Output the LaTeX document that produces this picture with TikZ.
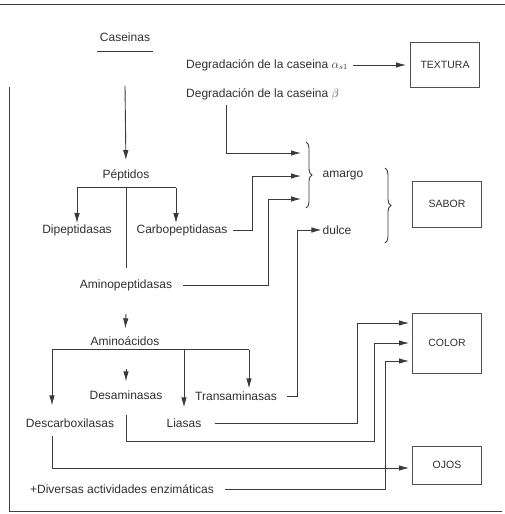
\documentclass[tikz,border=0pt]{standalone}
\usepackage{fontspec}
\setmainfont{Liberation Sans}
\usepackage{tikz}
\usetikzlibrary{arrows.meta,calc,decorations.pathreplacing}
\definecolor{ink}{HTML}{2F2F2F}
\definecolor{rule}{HTML}{3A3A3A}
\definecolor{boxline}{HTML}{505050}
\tikzset{
  >={Latex[length=10pt,width=5.5pt]},
  flow/.style={->,draw=rule,line width=.9pt},
  link/.style={draw=rule,line width=.9pt},
  lbl/.style={text=ink,font=\fontsize{12}{14}\selectfont,inner sep=1pt},
  target/.style={draw=boxline,line width=.9pt,text=ink,font=\fontsize{10.5}{12}\selectfont,
                 minimum width=69pt},
  curly/.style={draw=rule,line width=.9pt,decorate,decoration={brace,amplitude=6pt}},
  frame/.style={draw=black!75,line width=1pt}
}

\begin{document}
\begin{tikzpicture}[x=1pt,y=-1pt]
  \useasboundingbox (0,0) rectangle (505,514);
  % Frame
  \draw[frame] (0,4) -- (505,4);
  \draw[frame] (9,87) -- (9,511) -- (502,511);

  % Substrates and enzymes
  \node[lbl] (cas) at (125,37) {Caseinas};
  \node[lbl,anchor=west] (dega) at (185,65) {Degradación de la caseina $\alpha_{s1}$};
  \node[lbl,anchor=west] (degb) at (185,94) {Degradación de la caseina $\beta$};
  \node[lbl] (pep) at (126,175) {Péptidos};
  \node[lbl] (dip) at (77,230) {Dipeptidasas};
  \node[lbl] (car) at (182,230) {Carbopeptidasas};
  \node[lbl] (amp) at (126,285) {Aminopeptidasas};
  \node[lbl] (ami) at (125,341) {Aminoácidos};
  \node[lbl] (des) at (126,395) {Desaminasas};
  \node[lbl] (tra) at (236,396) {Transaminasas};
  \node[lbl] (dsc) at (70,423) {Descarboxilasas};
  \node[lbl] (lia) at (184,423) {Liasas};
  \node[lbl] (div) at (122,489) {+Diversas actividades enzimáticas};
  \node[lbl] (ama) at (343,176) {amargo};
  \node[lbl] (dul) at (337,230) {dulce};

  % Sensory outcomes
  \node[target,minimum height=45pt] (tex) at (445,65) {TEXTURA};
  \node[target,minimum height=46pt] (sab) at (447,204) {SABOR};
  \node[target,minimum height=60pt] (col) at (447,343) {COLOR};
  \node[target,minimum height=38pt] (ojo) at (447,465) {OJOS};

  % Braces
  \draw[curly] (306,142) -- (306,208);
  \draw[curly] (385,168) -- (385,243);
  \coordinate (in1) at (301,153);
  \coordinate (in2) at (301,176);
  \coordinate (in3) at (301,199);
  \coordinate (cin1) at ($(col.west)+(0,-20)$);
  \coordinate (cin2) at (col.west);
  \coordinate (cin3) at ($(col.west)+(0,18)$);

  \draw[link,thin] ($(cas.south west)+(-2,9)$) -- ($(cas.south east)+(2,9)$);
  \draw[flow,shorten >=8pt] ($(cas.south)+(0,43)$) -- (pep.north);
  \draw[flow,shorten <=4pt,shorten >=4pt] (dega.east) -- (tex.west |- dega.east);
  \draw[flow] ($(degb.south west)+(41,4)$) |- (in1);

  % Peptides
  \coordinate (pj) at ($(pep.south)+(0,6)$);
  \draw[link] (pj -| dip) -- ($(pj -| car)+(-6,0)$);
  \draw[flow] (pj -| dip) -- (dip.north);
  \draw[flow] ($(pj -| car)+(-6,0)$) -- ($(car.north)+(-6,0)$);
  \draw[link] (pj) -- ($(amp.north)+(0,-10)$);
  \draw[flow,shorten <=4pt] (car.east) -- ++(24,0) |- (in2);
  \draw[flow,shorten <=10pt] (amp.east) -- ++(95,0) |- (in3);
  \draw[flow,shorten >=7pt] ($(amp.south)+(0,22)$) -- (ami.north);

  % Amino acids
  \coordinate (aL) at ($(ami.south)+(-73,3)$);
  \coordinate (aR) at ($(ami.south)+(124,3)$);
  \draw[link] (aL) -- (aR);
  \draw[flow,shorten >=12pt] (aL) -- (aL |- dsc.north);
  \draw[flow,shorten >=10pt] (aL -| lia) -- (lia.north);
  \draw[flow,shorten >=2pt] (aR) -- (aR |- tra.north);
  \draw[flow,shorten >=8pt] ($(des.north)+(0,-20)$) -- (des.north);

  % Towards the outcomes
  \draw[flow,shorten <=9pt] (tra.east) -- ++(19,0) |- (dul.west);
  \draw[flow,shorten <=12pt,shorten >=3pt] (lia.east) -- ++(155,0) |- (cin1);
  \draw[flow,shorten <=14pt,shorten >=3pt] (des.south) -- ++(0,41) -- ++(248,0) |- (cin2);
  \draw[flow,shorten <=10pt,shorten >=3pt] (div.east) -- ++(170,0) |- (cin3);
  \draw[flow,shorten <=7pt,shorten >=3pt] (dsc.south -| aL) |- ($(ojo.west)+(0,3)$);
\end{tikzpicture}
\end{document}
